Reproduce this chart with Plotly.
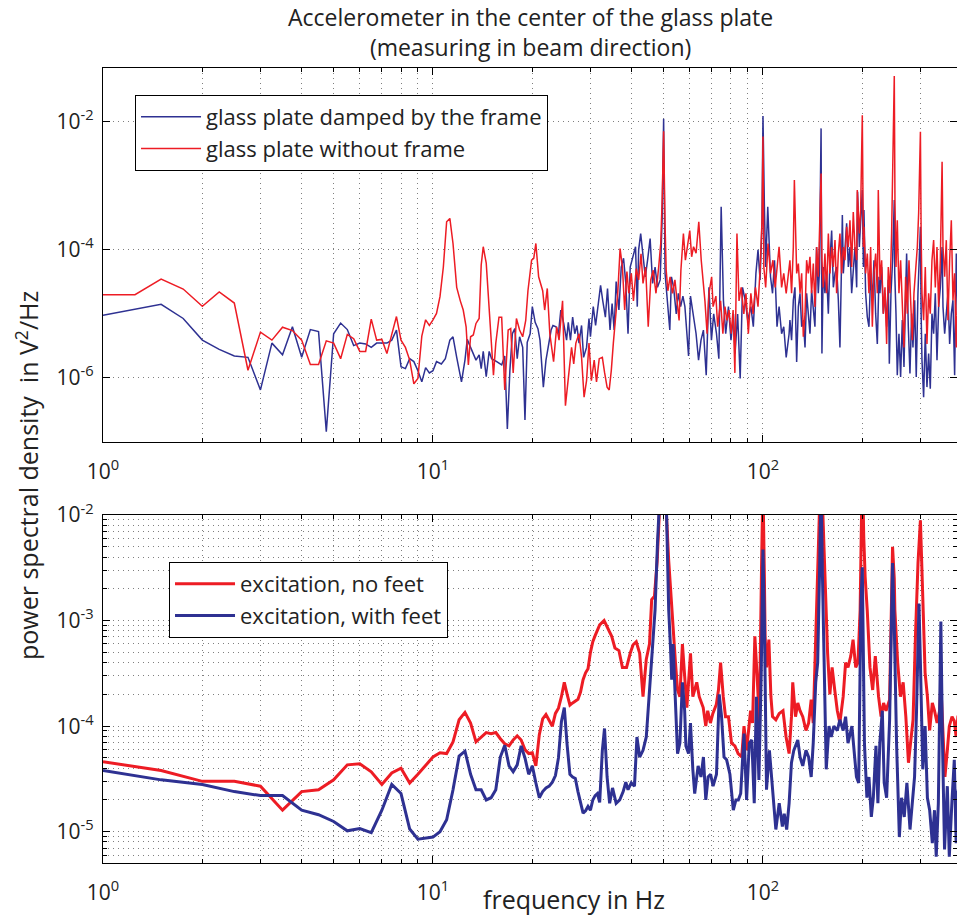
import plotly.graph_objects as go

BLUE = "#2E3192"
RED = "#ED1C24"

# ---------------- top panel: glass plate ----------------
top_blue_f = [1.0, 1.25, 1.5, 1.75, 2.0, 2.25, 2.5, 2.75, 3.0, 3.25, 3.5, 3.75, 4.0, 4.25, 4.5, 4.75, 5.0, 5.25, 5.5, 5.75,
              6.0, 6.25, 6.5, 6.75, 7.0, 7.25, 7.5, 7.75, 8.0, 8.25, 8.5, 8.75, 9.0, 9.25, 9.5, 9.75, 10.0,
              10.25, 10.6, 10.9, 11.25, 11.5, 11.8, 12.2, 12.5, 12.7, 13.0, 13.5, 13.8, 14.0, 14.2, 14.5, 14.8, 15.05, 15.6,
              16.15, 16.5, 16.8, 17.1, 17.4, 17.7, 18.0, 18.3, 18.7, 19.0, 19.3, 19.7, 20.0, 20.4, 20.8, 21.1, 21.6, 22.0,
              22.4, 22.8, 23.1, 23.6, 24.0, 24.4, 24.9, 25.4, 25.7, 26.1, 26.5, 26.9, 27.3, 27.7, 28.2, 28.6, 29.2, 29.7,
              30.0, 30.6, 31.1, 31.6, 32.2, 32.7, 33.3, 33.8, 34.4, 34.9, 35.4, 35.9, 36.6, 37.2, 37.8, 38.4, 39.0, 39.6,
              40.3, 41.1, 41.6, 42.0, 42.6, 43.2, 44.0, 44.7, 45.5, 46.3, 47.1, 47.9, 48.8, 49.5, 50.0, 50.5, 51.2, 52.2,
              52.8, 53.6, 54.6, 55.4, 56.3, 57.2, 58.0, 58.8, 59.5, 60.3, 61.3, 62.7, 63.8, 64.9, 66.0, 67.3, 68.6, 69.8,
              70.9, 72.3, 73.5, 74.7, 75.9, 77.1, 78.6, 80.0, 81.4, 82.3, 83.8, 85.3, 86.7, 88.4, 89.9, 91.9, 93.5, 95.2,
              96.6, 98.0, 99.3, 100.0, 101.0, 101.9, 103.4, 105.4, 106.9, 108.4, 110.3, 111.9, 113.9, 115.6, 117.6, 120.0,
              120.7, 122.1, 123.6, 125.0, 126.5, 128.0, 129.5, 131.0, 132.5, 134.1, 135.6, 137.2, 138.8, 140.4, 142.1,
              143.7, 145.4, 147.1, 148.2, 150.0, 150.9, 152.3, 154.1, 155.9, 157.8, 159.6, 161.5, 163.4, 165.3, 167.2,
              169.2, 171.1, 173.1, 174.0, 175.2, 177.2, 179.3, 181.4, 183.5, 185.7, 187.8, 190.0, 192.3, 193.5, 195.9,
              197.7, 200.0, 201.5, 202.3, 204.7, 207.1, 209.5, 212.0, 214.5, 217.0, 219.5, 222.1, 224.7, 226.2, 228.9,
              231.6, 234.3, 237.0, 239.8, 241.5, 244.3, 247.1, 250.0, 250.8, 253.0, 255.3, 258.3, 261.3, 264.4, 267.5,
              270.6, 272.5, 275.7, 278.9, 282.2, 284.8, 288.2, 291.4, 294.9, 300.0, 301.5, 303.3, 306.8, 310.4, 314.0,
              317.7, 321.4, 325.2, 329.0, 332.9, 336.8, 340.7, 344.7, 349.0, 351.2, 355.3, 359.4, 363.6, 367.9, 372.2,
              376.5, 380.9, 385.4, 389.0]
top_blue_v = [9.5e-6, 1.17e-5, 1.41e-5, 8.5e-6, 3.9e-6, 2.8e-6, 2.2e-6, 2.1e-6, 6.5e-7, 3.5e-6, 2.3e-6, 6.3e-6, 2.1e-6,
              5.7e-6, 5.3e-6, 1.45e-7, 4.9e-6, 7.2e-6, 5.7e-6, 3.2e-6, 3.5e-6, 3.4e-6, 3.0e-6, 3.5e-6, 3.5e-6, 3.5e-6,
              3.9e-6, 5.6e-6, 1.5e-6, 1.4e-6, 2.0e-6, 1.8e-6, 1.3e-6, 8.7e-7, 1.45e-6, 1.2e-6, 1.3e-6,
              1.8e-6, 1.65e-6, 2.0e-6, 3.9e-6, 4.4e-6, 2.1e-6, 8.7e-7, 1.9e-6, 4.0e-6, 3.0e-6, 1.9e-6, 2.3e-6, 1.4e-6,
              2.6e-6, 1.05e-6, 2.6e-6, 2.0e-6, 1.8e-6, 1.6e-6, 2.2e-6, 1.6e-7, 1.3e-6, 4.9e-6, 5.9e-6, 2.0e-6, 4.4e-6,
              3.0e-6, 2.2e-7, 3.6e-6, 4.9e-6, 1.3e-5, 7.4e-6, 5.9e-6, 3.9e-6, 7.2e-7, 1.9e-6, 3.5e-6, 5.6e-6, 6.6e-6,
              6.3e-6, 4.9e-6, 1.15e-5, 7.1e-6, 3.9e-6, 7.4e-6, 3.9e-6, 8.9e-6, 4.9e-6, 6.6e-6, 3.5e-6, 6.6e-6, 2.1e-6,
              3.0e-6, 8.5e-6, 4.4e-6, 1.3e-5, 6.6e-6, 1.3e-5, 2.8e-5, 1.6e-5, 8.9e-6, 2.5e-5, 5.6e-6, 1.45e-5, 5.6e-6,
              3.2e-5, 1.15e-5, 5.4e-5, 7.4e-5, 3.0e-5, 4.9e-6, 5.4e-5, 7.8e-5, 1.12e-4, 1.3e-5, 1.0e-4, 1.8e-4, 1.0e-4,
              3.8e-5, 6.9e-5, 1.5e-4, 3.0e-5, 5.4e-5, 2.6e-5, 3.4e-5, 3.2e-4, 1.12e-2, 4.3e-5, 1.6e-5, 5.6e-6, 3.8e-5,
              2.6e-5, 1.0e-5, 2.1e-5, 1.3e-5, 1.9e-5, 1.3e-5, 5.6e-6, 2.2e-6, 1.9e-5, 1.0e-5, 4.9e-6, 1.9e-6, 3.9e-6,
              5.6e-6, 1.1e-6, 2.6e-5, 3.9e-6, 1.0e-5, 4.9e-6, 2.0e-6, 4.7e-4, 1.6e-5, 4.9e-6, 1.3e-5, 3.9e-6, 1.0e-5,
              2.4e-6, 1.0e-5, 9.8e-7, 2.6e-5, 1.6e-5, 7.9e-6, 1.3e-5, 6.3e-6, 4.3e-5, 1.0e-4, 3.4e-5, 2.5e-4, 1.23e-2,
              4.7e-4, 5.4e-5, 4.7e-4, 3.8e-5, 2.1e-5, 6.9e-5, 6.3e-6, 1.3e-5, 4.9e-6, 6.3e-6, 2.1e-6, 4.9e-6,
              8.0e-6, 3.9e-6, 1.64e-5, 2.6e-5, 1.78e-6, 1.29e-5, 2.1e-5, 6.3e-6, 8.0e-6, 3.0e-6, 2.1e-5, 1.01e-5, 4.9e-6,
              2.35e-5, 1.29e-5, 6.3e-6, 1.11e-4, 2.1e-5, 4.3e-5, 7.9e-3, 2.4e-6, 5.4e-5, 2.1e-5, 4.3e-5, 1.01e-5, 6.9e-5,
              2.0e-4, 2.6e-5, 4.3e-5, 5.4e-5, 1.64e-5, 3.0e-6, 6.9e-5, 3.5e-4, 4.3e-5, 1.11e-4, 2.6e-4, 5.4e-5, 1.11e-4,
              2.1e-5, 5.4e-5, 1.11e-4, 2.6e-5, 8.1e-4, 1.11e-4, 2.9e-4, 8.6e-4, 5.4e-5, 4.2e-4, 2.1e-5, 9.0e-6, 6.3e-6,
              4.3e-5, 1.64e-5, 6.9e-5, 1.01e-5, 3.4e-6, 3.8e-5, 2.1e-5, 5.4e-5, 1.01e-5, 2.1e-5, 6.3e-6, 3.4e-5, 1.67e-6,
              2.1e-5, 6.9e-5, 6.0e-4, 4.3e-5, 1.01e-5, 1.1e-6, 4.9e-6, 1.04e-6, 8.0e-6, 1.49e-6, 2.1e-5, 8.8e-5, 6.3e-6,
              1.17e-6, 1.01e-5, 3.0e-6, 1.64e-5, 1.04e-6, 2.1e-5, 2.3e-4, 1.01e-5, 1.89e-6, 5.0e-7, 4.9e-6, 7.2e-7,
              2.4e-6, 6.8e-7, 1.01e-5, 4.9e-6, 2.1e-5, 1.89e-6, 1.29e-5, 2.6e-5, 1.11e-4, 1.29e-5, 4.9e-6, 1.01e-5,
              2.1e-5, 3.4e-6, 1.01e-5, 1.64e-5, 1.1e-6, 8.8e-5, 1.01e-5]

top_red_f = [1.0, 1.25, 1.5, 1.75, 2.0, 2.25, 2.5, 2.75, 3.0, 3.25, 3.5, 3.75, 4.0, 4.25, 4.5, 4.75, 5.0, 5.25, 5.5, 5.75,
             6.0, 6.25, 6.5, 6.75, 7.0, 7.25, 7.5, 7.75, 8.0, 8.25, 8.5, 8.75, 9.0, 9.25, 9.5, 9.75, 10.0,
             10.25, 10.5, 10.75, 11.0, 11.25, 11.5, 11.8, 12.1, 12.35, 12.6, 12.8, 13.0, 13.25, 13.5, 13.8, 14.0, 14.2,
             14.5, 14.8, 15.05, 15.25, 15.5, 15.85, 16.15, 16.5, 16.9, 17.2, 17.5, 17.9, 18.3, 18.7, 19.1, 19.4, 19.9,
             20.2, 20.5, 20.9, 21.5, 21.8, 22.2, 22.6, 23.2, 23.7, 24.1, 24.7, 25.2, 25.8, 26.3, 26.7, 27.1, 27.7, 28.2,
             28.7, 29.2, 29.7, 30.2, 30.8, 31.3, 31.9, 32.6, 33.1, 33.7, 34.2, 34.7, 35.2, 35.8, 36.3, 36.9, 37.5, 38.1,
             38.7, 39.2, 39.9, 40.5, 41.3, 42.0, 42.7, 43.3, 44.1, 44.9, 45.7, 46.5, 47.4, 48.3, 49.0, 49.5, 50.0, 50.5,
             50.9, 51.5, 52.3, 53.2, 54.1, 54.9, 55.7, 56.4, 57.4, 58.2, 59.2, 60.0, 60.8, 61.6, 62.7, 63.9, 65.0, 65.8,
             66.7, 67.7, 68.6, 69.9, 70.6, 72.0, 72.9, 74.4, 75.6, 76.7, 77.8, 78.9, 80.1, 81.2, 82.2, 83.4, 84.6, 85.9,
             87.5, 88.8, 90.3, 91.9, 93.3, 94.9, 96.6, 98.1, 99.4, 100.0, 100.6, 101.9, 103.6, 105.4, 107.2, 108.9, 110.4,
             111.9, 113.9, 115.6, 117.6, 120.0,
             120.7, 122.1, 123.6, 124.5, 125.3, 126.5, 128.0, 129.5, 131.0, 132.5, 134.1, 135.6, 137.2, 138.8, 140.4,
             142.1, 143.7, 145.4, 147.1, 148.2, 150.0, 150.9, 152.3, 154.1, 155.9, 157.8, 159.6, 161.5, 163.4, 165.3,
             167.2, 169.2, 171.1, 173.1, 175.2, 177.2, 179.3, 181.4, 183.5, 185.7, 187.8, 190.0, 192.3, 193.1, 195.9,
             197.7, 200.0, 201.5, 202.3, 204.7, 207.1, 209.5, 212.0, 214.5, 217.0, 219.5, 222.1, 223.6, 226.2, 228.9,
             231.6, 234.3, 237.0, 239.8, 242.6, 245.4, 247.5, 250.0, 251.2, 253.0, 255.3, 258.3, 261.3, 264.4, 267.5,
             270.6, 273.8, 277.0, 280.2, 283.5, 286.8, 290.2, 293.6, 296.3, 300.0, 301.5, 303.3, 306.8, 310.4, 314.0,
             317.7, 321.4, 325.2, 329.0, 332.9, 336.8, 340.7, 344.7, 349.0, 351.2, 355.3, 359.4, 363.6, 367.9, 372.2,
             376.5, 380.9, 385.4, 389.0]
top_red_v = [2.0e-5, 2.0e-5, 3.5e-5, 2.45e-5, 1.32e-5, 2.2e-5, 1.48e-5, 1.32e-6, 5.2e-6, 3.9e-6, 6.2e-6, 5.5e-6, 3.9e-6,
             1.62e-6, 1.62e-6, 3.8e-6, 3.5e-6, 2.0e-6, 4.8e-6, 4.1e-6, 2.6e-6, 2.6e-6, 8.3e-6, 3.9e-6, 4.0e-6, 2.4e-6,
             4.8e-6, 9.1e-6, 3.9e-6, 3.0e-6, 1.9e-6, 8.1e-7, 9.8e-7, 4.5e-6, 8.1e-6, 6.6e-6, 8.1e-6,
             1.02e-5, 1.86e-5, 5.4e-5, 2.75e-4, 3.1e-4, 1.26e-4, 2.6e-5, 1.6e-5, 1.15e-5, 6.3e-6, 1.6e-6, 4.4e-6, 4.7e-6,
             7.1e-6, 8.5e-6, 5.8e-5, 1.12e-4, 6.2e-5, 1.15e-5, 3.5e-6, 1.1e-6, 3.5e-6, 8.9e-6, 8.9e-6, 6.5e-7, 5.6e-6,
             5.9e-6, 1.2e-6, 8.5e-6, 5.6e-6, 4.4e-6, 7.9e-6, 2.3e-5, 6.9e-5, 7.4e-5, 1.26e-4, 3.8e-5, 2.3e-5, 1.15e-5,
             2.5e-5, 4.9e-6, 1.8e-6, 6.3e-6, 3.9e-6, 1.6e-5, 3.7e-7, 1.23e-6, 3.0e-6, 1.66e-6, 3.5e-6, 4.9e-6, 2.1e-6,
             5.0e-7, 9.1e-7, 3.5e-6, 9.1e-7, 1.9e-6, 8.7e-7, 2.0e-6, 2.1e-6, 1.23e-6, 7.2e-7, 6.5e-7, 1.3e-6, 3.5e-6,
             9.5e-6, 2.1e-5, 1.05e-4, 5.4e-5, 1.15e-5, 4.6e-5, 2.1e-5, 4.3e-5, 1.6e-5, 5.1e-5, 3.4e-5, 8.7e-5, 3.0e-5,
             5.4e-5, 6.3e-6, 3.4e-5, 4.8e-5, 2.1e-5, 5.4e-5, 1.26e-4, 6.3e-4, 7.1e-3, 2.5e-4,
             4.8e-5, 2.3e-5, 3.8e-5, 2.1e-5, 3.4e-5, 1.6e-5, 7.9e-6, 4.8e-5, 1.8e-4, 6.9e-5, 1.4e-4, 2.0e-4, 7.8e-5,
             1.12e-4, 8.9e-5, 2.75e-4, 6.9e-5, 3.4e-5, 1.6e-5, 4.9e-6, 2.1e-5, 3.8e-5, 1.3e-5, 1.9e-5, 6.3e-6, 1.6e-5,
             4.9e-6, 1.3e-5, 7.9e-6, 1.15e-5, 4.9e-6, 1.15e-5, 1.2e-6, 1.8e-4, 1.6e-5, 2.6e-5, 1.0e-5, 2.1e-5, 4.9e-6,
             2.1e-5, 1.0e-5, 2.6e-5, 1.3e-5, 5.4e-5, 3.2e-4, 5.9e-3, 5.4e-5, 2.6e-5, 1.26e-4, 4.3e-5, 6.9e-5, 2.6e-5,
             5.4e-5, 1.12e-4, 2.6e-5, 4.3e-5, 2.1e-5, 6.2e-5,
             6.9e-5, 2.1e-5, 1.11e-4, 1.23e-3, 1.8e-4, 4.3e-5, 6.1e-5, 2.1e-5, 4.3e-5, 4.4e-6, 1.01e-5, 6.9e-5, 4.3e-5,
             7.8e-5, 2.1e-5, 6.1e-5, 1.29e-5, 1.11e-4, 3.8e-5, 2.3e-4, 1.56e-3, 6.9e-5, 2.6e-5, 8.8e-5, 2.1e-5, 1.8e-4,
             4.3e-5, 1.11e-4, 5.4e-5, 1.42e-4, 2.1e-5, 8.8e-5, 1.8e-4, 4.3e-5, 1.11e-4, 6.9e-5, 2.3e-4, 1.11e-4, 2.9e-4,
             5.4e-5, 3.9e-4, 1.11e-4, 6.9e-5, 8.6e-4, 1.8e-4, 4.2e-4, 1.27e-2, 1.11e-4, 2.3e-4, 4.3e-5, 8.8e-5, 2.1e-5,
             1.11e-4, 6.3e-6, 4.3e-5, 8.8e-5, 2.1e-5, 8.6e-4, 3.4e-5, 6.9e-5, 1.01e-5, 2.6e-5, 3.4e-6, 5.4e-5, 2.1e-5,
             1.8e-4, 1.98e-3, 5.2e-2, 5.3e-4, 5.4e-5, 2.9e-4, 2.1e-5, 6.9e-5, 1.14e-5, 3.0e-6, 3.8e-5, 1.01e-5, 6.9e-5,
             1.64e-5, 3.9e-6, 2.1e-5, 4.3e-5, 1.11e-4, 3.7e-4, 6.98e-3, 1.8e-4, 2.1e-5, 8.0e-6, 5.4e-5, 3.4e-6, 2.1e-5,
             1.01e-5, 6.9e-5, 1.42e-4, 2.6e-5, 1.11e-4, 1.29e-5, 6.9e-5, 2.37e-3, 1.11e-4, 3.8e-5, 1.42e-4, 8.0e-6,
             6.9e-5, 2.9e-4, 1.64e-5, 4.3e-5, 3.0e-6, 2.1e-5]

# ---------------- bottom panel: excitation ----------------
bot_red_f = [1.0, 1.5, 2.0, 2.5, 3.0, 3.5, 4.0, 4.5, 5.0, 5.5, 6.0, 6.5, 7.0, 7.5, 8.0, 8.5, 9.0, 9.5, 10.0, 10.5, 11.0,
             11.5, 12.0, 12.5, 13.0, 13.5, 14.0, 14.5, 15.0, 15.5, 16.0, 16.5, 17.0, 17.5, 18.0, 18.5, 19.0, 19.5, 20.0,
             20.5, 21.0, 21.5, 22.0, 22.5, 23.0, 23.5, 24.0, 24.5, 25.0, 25.5, 26.0, 26.5, 27.0, 27.5, 28.0, 28.5, 29.0,
             29.5, 30.0, 30.5, 31.0, 31.5, 32.0, 33.0, 34.0, 34.8, 35.6, 36.6, 37.5, 38.6, 39.6, 40.4, 41.3, 42.3, 43.3,
             44.3, 45.3, 46.0, 46.9, 47.8, 48.5, 49.5, 50.5, 51.0, 51.8, 52.6, 53.4, 54.3, 55.1, 56.0, 57.0, 57.9, 58.8,
             60.3, 61.3, 63.0, 64.1, 65.9, 67.1, 68.0, 69.3, 70.5, 72.2, 73.3, 74.4, 75.8, 77.0, 78.6, 80.3, 82.2, 84.1,
             86.2, 87.6, 89.2, 91.7, 93.0, 94.5, 96.0, 97.5, 99.0, 100.0, 101.0, 101.5, 102.5, 104.2, 105.7, 106.9,
             109.4, 112.0, 115.0, 117.5, 120.0, 122.0, 123.1, 125.5, 127.5, 129.5, 132.0, 135.0, 137.5, 140.0, 142.0,
             144.5, 146.5, 148.5, 150.0, 151.5, 154.0, 157.0, 159.5, 162.0, 165.0, 168.0, 171.0, 175.0, 178.0, 181.0,
             184.5, 187.5, 191.0, 194.0, 197.0, 199.0, 200.0, 202.0, 204.0, 207.0, 211.0, 215.0, 219.0, 224.0, 228.0,
             232.0, 236.0, 242.0, 245.0, 247.0, 250.0, 251.0, 256.0, 261.0, 266.0, 271.0, 276.0, 280.0, 285.0, 290.0,
             295.0, 300.0, 305.0, 310.0, 315.0, 320.0, 326.0, 331.0, 337.0, 343.0, 346.0, 350.0, 356.0, 362.0, 367.0,
             374.0, 380.0, 385.0, 390.0]
bot_red_v = [4.6e-5, 3.8e-5, 3.0e-5, 3.0e-5, 2.7e-5, 1.6e-5, 2.4e-5, 2.5e-5, 3.1e-5, 4.3e-5, 4.4e-5, 3.7e-5, 2.8e-5,
             3.6e-5, 4.0e-5, 2.9e-5, 3.5e-5, 4.2e-5, 5.1e-5, 5.6e-5, 5.5e-5, 7.1e-5, 1.15e-4, 1.35e-4, 1.07e-4, 7.1e-5,
             7.9e-5, 8.7e-5, 8.5e-5, 8.7e-5, 7.6e-5, 6.8e-5, 6.5e-5, 7.4e-5, 8.1e-5, 7.4e-5, 6.0e-5, 5.5e-5, 5.6e-5,
             4.2e-5, 8.3e-5, 1.17e-4, 1.29e-4, 1.15e-4, 1.0e-4, 1.32e-4, 1.48e-4, 1.9e-4, 2.6e-4, 2.0e-4, 1.58e-4,
             1.66e-4, 1.74e-4, 1.8e-4, 2.1e-4, 2.75e-4, 3.2e-4, 3.5e-4, 5.0e-4, 6.3e-4, 7.2e-4, 8.1e-4, 9.1e-4, 1.0e-3,
             8.3e-4, 7.1e-4, 5.5e-4, 5.2e-4, 3.6e-4, 3.6e-4, 4.9e-4, 5.9e-4, 6.3e-4, 4.9e-4, 1.9e-4, 4.3e-4, 6.0e-4,
             1.58e-3, 1.7e-3, 3.7e-3, 1.0e-2, 5.0e-2, 4.0e-2, 1.0e-2, 3.7e-3, 1.7e-3, 8.7e-4, 4.0e-4, 2.2e-4, 1.9e-4,
             6.0e-4, 2.6e-4, 1.5e-4, 4.9e-4, 1.9e-4, 2.6e-4, 1.9e-4, 1.5e-4, 1.0e-4, 1.4e-4, 1.07e-4, 1.32e-4, 1.6e-4,
             2.2e-4, 4.0e-4, 1.9e-4, 1.23e-4, 1.23e-4, 6.9e-5, 6.5e-5, 5.5e-5, 5.1e-5, 1.0e-4, 5.9e-5, 1.4e-4, 1.07e-4,
             7.1e-4, 3.0e-4, 1.07e-4, 3.2e-3, 2.0e-2, 2.5e-3, 7.1e-4, 3.6e-4, 6.6e-4, 1.9e-4, 1.23e-4, 1.15e-4, 1.32e-4,
             1.4e-4, 7.9e-5, 5.5e-5, 1.23e-4, 2.6e-4, 1.23e-4, 1.66e-4, 1.4e-4, 1.23e-4, 9.1e-5, 1.07e-4, 1.78e-4,
             1.07e-4, 8.1e-4, 2.6e-3, 1.26e-2, 3.2e-2, 1.26e-2, 3.7e-3, 4.9e-4, 2.0e-4, 3.6e-4, 2.2e-4, 1.4e-4, 1.07e-4,
             1.9e-4, 4.0e-4, 3.6e-4, 4.6e-4, 6.6e-4, 3.6e-4, 4.0e-4, 1.26e-3, 7.2e-3, 3.2e-2, 6.3e-3, 2.6e-3, 1.26e-3,
             3.6e-4, 2.2e-4, 4.6e-4, 1.9e-4, 1.23e-4, 1.66e-4, 1.4e-4, 1.78e-4, 1.0e-3, 5.0e-3, 2.5e-3, 1.26e-3, 4.0e-4,
             1.9e-4, 2.6e-4, 1.23e-4, 4.5e-5, 6.9e-5, 1.15e-4, 7.6e-4, 3.5e-3, 8.9e-3, 1.45e-3, 3.2e-4, 1.9e-4, 9.1e-5,
             1.66e-4, 1.4e-4, 1.07e-4, 1.4e-4, 2.5e-4, 1.07e-4, 3.3e-5, 5.9e-5, 1.0e-4, 1.23e-4, 1.12e-4, 7.9e-5,
             1.26e-4]

bot_blue_f = [1.0, 1.5, 2.0, 2.5, 3.0, 3.5, 4.0, 4.5, 5.0, 5.5, 6.0, 6.5, 7.0, 7.5, 8.0, 8.5, 9.0, 9.5, 10.0, 10.5, 11.0,
              11.5, 12.0, 12.5, 13.0, 13.5, 14.0, 14.5, 15.0, 15.5, 16.0, 16.5, 17.0, 17.5, 18.0, 18.5, 19.0, 19.5, 20.0,
              20.5, 21.0, 21.5, 22.0, 22.5, 23.0, 23.5, 24.0, 24.5, 25.0, 25.5, 26.0, 26.5, 27.0, 27.5, 28.0, 28.5, 29.0,
              29.5, 30.0, 30.5, 31.0, 31.5, 32.0, 32.6, 33.1, 33.7, 34.3, 35.0, 35.9, 36.8, 37.7, 38.4, 39.0, 39.9, 40.8,
              41.5, 42.3, 43.3, 44.3, 45.3, 46.3, 47.1, 47.9, 48.7, 49.7, 50.7, 51.2, 51.8, 52.4, 52.9, 53.4, 54.3, 55.1,
              56.0, 57.0, 57.9, 58.4, 59.5, 60.3, 61.3, 62.1, 63.6, 64.9, 66.0, 67.1, 68.2, 69.4, 70.6, 72.3, 73.7, 74.9,
              76.2, 77.6, 79.4, 81.3, 82.8, 84.2, 85.6, 87.6, 89.2, 90.9, 92.5, 94.1, 95.5, 97.2, 98.8, 100.0, 101.0,
              101.5, 102.5, 104.6, 106.5, 108.4, 109.4, 112.0, 114.5, 116.0, 118.0, 120.0, 122.0, 124.0, 127.5, 129.5,
              132.0, 135.0, 137.5, 140.0, 142.0, 144.5, 146.5, 148.5, 150.0, 151.5, 153.0, 155.5, 158.5, 161.0, 164.0,
              168.0, 171.0, 175.0, 178.0, 181.0, 186.0, 189.0, 192.0, 195.0, 198.0, 200.0, 201.0, 203.0, 206.5, 209.5,
              213.0, 216.0, 220.0, 223.0, 226.0, 230.0, 233.0, 237.0, 242.0, 247.0, 250.0, 254.0, 259.0, 263.0, 268.0,
              273.0, 279.0, 283.0, 288.0, 292.0, 297.0, 300.0, 305.0, 310.0, 315.0, 320.0, 326.0, 331.0, 335.0, 340.0,
              346.0, 350.0, 355.0, 362.0, 367.0, 374.0, 380.0, 385.0, 390.0]
bot_blue_v = [3.8e-5, 3.1e-5, 2.8e-5, 2.4e-5, 2.2e-5, 2.2e-5, 1.6e-5, 1.45e-5, 1.25e-5, 1.02e-5, 1.07e-5, 9.8e-6, 1.6e-5,
              2.8e-5, 2.3e-5, 1.06e-5, 8.5e-6, 8.7e-6, 8.9e-6, 1.0e-5, 1.3e-5, 2.5e-5, 5.2e-5, 5.8e-5, 3.5e-5, 2.5e-5,
              2.5e-5, 2.0e-5, 2.1e-5, 2.5e-5, 5.1e-5, 6.6e-5, 4.2e-5, 3.7e-5, 4.3e-5, 6.5e-5, 5.0e-5, 3.5e-5, 4.2e-5,
              2.9e-5, 2.1e-5, 2.4e-5, 2.6e-5, 2.7e-5, 2.95e-5, 3.4e-5, 5.0e-5, 1.1e-4, 1.5e-4, 6.6e-5, 3.5e-5, 3.3e-5,
              3.2e-5, 2.4e-5, 1.9e-5, 1.5e-5, 1.58e-5, 1.74e-5, 1.6e-5, 2.0e-5, 2.2e-5, 2.3e-5, 1.9e-5, 5.9e-5, 9.5e-5,
              3.3e-5, 1.86e-5, 2.6e-5, 1.86e-5, 2.0e-5, 2.4e-5, 2.95e-5, 2.5e-5, 2.9e-5, 2.7e-5, 7.9e-5, 5.1e-5, 5.9e-5,
              7.9e-5, 2.3e-4, 5.2e-4, 1.26e-3, 5.4e-3, 1.26e-2, 6.0e-2, 2.5e-2, 5.0e-3, 1.26e-3, 6.0e-4, 2.75e-4, 6.0e-4,
              1.4e-4, 5.5e-5, 6.9e-5, 2.6e-4, 1.4e-4, 6.5e-5, 5.5e-5, 1.07e-4, 3.9e-5, 2.3e-5, 4.2e-5, 3.3e-5, 5.1e-5,
              2.0e-5, 3.3e-5, 3.5e-5, 2.7e-5, 3.5e-5, 2.0e-4, 1.23e-4, 5.1e-5, 4.8e-5, 3.5e-5, 1.6e-5, 2.0e-5, 2.0e-5,
              2.3e-5, 8.5e-5, 2.0e-5, 6.9e-5, 7.4e-5, 1.86e-5, 1.9e-4, 3.1e-5, 3.2e-4, 4.7e-3, 1.0e-3, 3.0e-4, 2.5e-5,
              5.9e-5, 2.9e-5, 1.74e-5, 1.05e-5, 1.86e-5, 1.12e-5, 1.48e-5, 1.05e-5, 1.86e-5, 4.5e-5, 5.9e-5, 7.4e-5,
              5.1e-5, 4.2e-5, 5.9e-5, 5.1e-5, 3.3e-5, 6.9e-5, 2.6e-4, 4.0e-4, 3.2e-3, 2.0e-2, 2.5e-3, 3.6e-4, 3.9e-5,
              1.0e-4, 7.9e-5, 1.0e-4, 9.1e-5, 1.15e-4, 9.1e-5, 1.23e-4, 6.9e-5, 1.0e-4, 5.9e-5, 3.3e-5, 2.9e-5, 1.35e-3,
              3.2e-3, 1.17e-3, 6.9e-5, 2.1e-5, 3.3e-5, 1.38e-5, 2.1e-5, 6.5e-5, 1.86e-5, 6.9e-5, 1.4e-4, 2.9e-5, 2.1e-5,
              1.15e-4, 3.5e-3, 8.9e-4, 6.9e-5, 8.9e-6, 2.1e-5, 1.38e-5, 2.9e-5, 1.05e-5, 1.86e-5, 3.3e-5, 1.4e-4,
              1.45e-3, 4.0e-4, 3.9e-5, 1.0e-4, 2.1e-5, 1.6e-5, 7.8e-6, 1.6e-5, 5.8e-6, 1.86e-5, 9.8e-4, 6.9e-5, 6.8e-6,
              2.7e-5, 5.8e-6, 2.0e-5, 4.8e-5, 7.8e-6, 2.5e-5]

x_major = [1, 10, 100]
x_major_text = ["10<sup>0</sup>", "10<sup>1</sup>", "10<sup>2</sup>"]
x_minor = [2, 3, 4, 5, 6, 7, 8, 9, 20, 30, 40, 50, 60, 70, 80, 90, 200, 300]
top_y_major = [1e-6, 1e-4, 1e-2]
top_y_major_text = ["10<sup>-6</sup>", "10<sup>-4</sup>", "10<sup>-2</sup>"]
bot_y_major = [1e-5, 1e-4, 1e-3, 1e-2]
bot_y_major_text = ["10<sup>-5</sup>", "10<sup>-4</sup>", "10<sup>-3</sup>", "10<sup>-2</sup>"]
bot_y_minor = [6e-6, 7e-6, 8e-6, 9e-6, 2e-5, 3e-5, 4e-5, 5e-5, 6e-5, 7e-5, 8e-5, 9e-5,
               2e-4, 3e-4, 4e-4, 5e-4, 6e-4, 7e-4, 8e-4, 9e-4, 2e-3, 3e-3, 4e-3, 5e-3, 6e-3, 7e-3, 8e-3, 9e-3]

FONT = "Open Sans"
GRID = "rgba(0,0,0,0.5)"
GDASH = "1px,4px"
TXT = "#222"

fig = go.Figure()
fig.add_trace(go.Scatter(x=top_blue_f, y=top_blue_v, mode="lines", name="glass plate damped by the frame",
                         line=dict(color=BLUE, width=1.5), xaxis="x", yaxis="y", legend="legend"))
fig.add_trace(go.Scatter(x=top_red_f, y=top_red_v, mode="lines", name="glass plate without frame",
                         line=dict(color=RED, width=1.5), xaxis="x", yaxis="y", legend="legend"))
fig.add_trace(go.Scatter(x=bot_red_f, y=bot_red_v, mode="lines", name="excitation, no feet",
                         line=dict(color=RED, width=3), xaxis="x2", yaxis="y2", legend="legend2"))
fig.add_trace(go.Scatter(x=bot_blue_f, y=bot_blue_v, mode="lines", name="excitation, with feet",
                         line=dict(color=BLUE, width=3), xaxis="x2", yaxis="y2", legend="legend2"))


def xaxis_style(anchor):
    return dict(type="log", range=[0, 2.588], domain=[0, 1], anchor=anchor, automargin=False,
                tickmode="array", tickvals=x_major, ticktext=x_major_text,
                ticks="inside", ticklen=7, tickcolor="black", mirror="allticks",
                showline=True, linecolor="black", linewidth=1.2,
                showgrid=True, gridcolor=GRID, griddash=GDASH, gridwidth=1,
                minor=dict(tickmode="array", tickvals=x_minor, ticks="inside", ticklen=4, tickcolor="black",
                           showgrid=True, gridcolor=GRID, griddash=GDASH, gridwidth=1),
                tickfont=dict(family=FONT, size=21, color=TXT), ticklabelstandoff=11,
                zeroline=False)


fig.update_layout(
    width=957, height=917,
    margin=dict(l=103, r=0, t=0, b=0, autoexpand=False),
    paper_bgcolor="white", plot_bgcolor="white",
    showlegend=True,
    font=dict(family=FONT, color=TXT),
    xaxis=xaxis_style("y"),
    xaxis2=xaxis_style("y2"),
    yaxis=dict(type="log", range=[-7.0, -1.16], domain=[0.518, 0.9258], anchor="x", automargin=False,
               tickmode="array", tickvals=top_y_major, ticktext=top_y_major_text,
               ticks="inside", ticklen=7, tickcolor="black", mirror="allticks",
               showline=True, linecolor="black", linewidth=1.2,
               showgrid=True, gridcolor=GRID, griddash=GDASH, gridwidth=1,
               tickfont=dict(family=FONT, size=21, color=TXT), ticklabelstandoff=4, zeroline=False),
    yaxis2=dict(type="log", range=[-5.296, -2.0], domain=[0.0589, 0.4384], anchor="x2", automargin=False,
                tickmode="array", tickvals=bot_y_major, ticktext=bot_y_major_text,
                ticks="inside", ticklen=7, tickcolor="black", mirror="allticks",
                showline=True, linecolor="black", linewidth=1.2,
                showgrid=True, gridcolor=GRID, griddash=GDASH, gridwidth=1,
                minor=dict(tickmode="array", tickvals=bot_y_minor, ticks="inside", ticklen=4, tickcolor="black",
                           showgrid=True, gridcolor=GRID, griddash=GDASH, gridwidth=1),
                tickfont=dict(family=FONT, size=21, color=TXT), ticklabelstandoff=4, zeroline=False),
    legend=dict(x=0.0375, y=0.8964, xanchor="left", yanchor="top", bgcolor="white",
                bordercolor="black", borderwidth=1, font=dict(family=FONT, size=22, color=TXT),
                tracegroupgap=0, itemwidth=60),
    legend2=dict(x=0.0773, y=0.3871, xanchor="left", yanchor="top", bgcolor="white",
                 bordercolor="black", borderwidth=1, font=dict(family=FONT, size=22, color=TXT),
                 tracegroupgap=0, itemwidth=60),
    annotations=[
        dict(text="Accelerometer in the center of the glass plate<br>(measuring in beam direction)",
             xref="paper", yref="paper", x=0.5, y=0.9646, xanchor="center", yanchor="middle",
             showarrow=False, font=dict(family=FONT, size=23, color=TXT)),
        dict(text="power spectral density\u00a0 in V<sup>2</sup>/Hz", xref="paper", yref="paper",
             x=-0.089, y=0.482, xanchor="center", yanchor="middle", textangle=-90,
             showarrow=False, font=dict(family=FONT, size=25, color=TXT)),
        dict(text="frequency in Hz", xref="paper", yref="paper", x=0.5515, y=0.0196,
             xanchor="center", yanchor="middle", showarrow=False,
             font=dict(family=FONT, size=25, color=TXT)),
    ],
)

fig.write_html("out.html",
               config={"displayModeBar": False},
               post_script="document.body.style.margin='0';document.body.style.overflow='hidden';")
